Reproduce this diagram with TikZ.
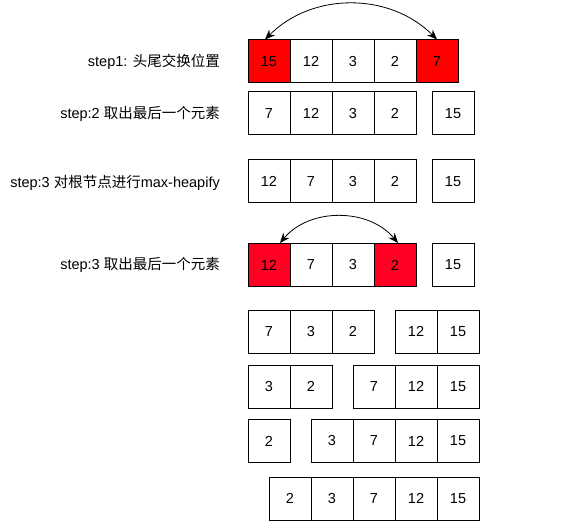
\documentclass[tikz,border=0pt]{standalone}
\usepackage{fontspec}
\setmainfont{Liberation Sans}
\newfontfamily\cjk{Noto Sans CJK SC}
\usetikzlibrary{arrows.meta}
\definecolor{swapred}{RGB}{255,0,0}
\definecolor{swappink}{RGB}{255,0,34}
\tikzset{
  cell/.style={draw, line width=1pt, minimum width=42pt, minimum height=43pt, inner sep=0pt, font=\fontsize{14.5}{16}\selectfont},
  nofill/.style={},
  redA/.style={fill=swapred},
  redB/.style={fill=swappink},
  steplabel/.style={anchor=east, inner sep=0pt, font=\fontsize{14.5}{16}\selectfont},
  swaparrow/.style={{Stealth[length=10pt,width=8pt]}-{Stealth[length=10pt,width=8pt]}, line width=0.8pt}
}
\begin{document}
\begin{tikzpicture}[x=1pt,y=1pt]
    \useasboundingbox (0,0) rectangle (576,-532);
    \node[steplabel] (l1) at (220,-62) {step1: {\cjk 头尾交换位置}};
    \node[steplabel] (l2) at (220,-114) {step:2 {\cjk 取出最后一个元素}};
    \node[steplabel] (l3) at (220,-183) {step:3 {\cjk 对根节点进行}max-heapify};
    \node[steplabel] (l4) at (220,-265) {step:3 {\cjk 取出最后一个元素}};
    \foreach \v/\s [count=\i] in {15/redA,12/nofill,3/nofill,2/nofill,7/redA} \node[cell,\s] (r1c\i) at ({227+42*\i},-61.5) {\v};
    \foreach \v [count=\i] in {7,12,3,2} \node[cell] (r2c\i) at ({227+42*\i},-113.5) {\v};
    \node[cell] (r2s) at (453,-113.5) {15};
    \foreach \v [count=\i] in {12,7,3,2} \node[cell] (r3c\i) at ({227+42*\i},-181.5) {\v};
    \node[cell] (r3s) at (453,-181.5) {15};
    \foreach \v/\s [count=\i] in {12/redB,7/nofill,3/nofill,2/redB} \node[cell,\s] (r4c\i) at ({227+42*\i},-265) {\v};
    \node[cell] (r4s) at (453,-265) {15};
    \foreach \v [count=\i] in {7,3,2} \node[cell] (r5c\i) at ({227+42*\i},-331.5) {\v};
    \foreach \v [count=\i] in {12,15} \node[cell] (r5s\i) at ({374+42*\i},-331.5) {\v};
    \foreach \v [count=\i] in {3,2} \node[cell] (r6c\i) at ({227+42*\i},-386.5) {\v};
    \foreach \v [count=\i] in {7,12,15} \node[cell] (r6s\i) at ({332+42*\i},-386.5) {\v};
    \node[cell] (r7c1) at (269,-441) {2};
    \foreach \v [count=\i] in {3,7,12,15} \node[cell] (r7s\i) at ({290+42*\i},-441) {\v};
    \foreach \v [count=\i] in {2,3,7,12,15} \node[cell] (r8s\i) at ({248+42*\i},-498.5) {\v};
    \draw[swaparrow] ([xshift=-4pt]r1c1.north) to[bend left=45] (r1c5.north);
    \draw[swaparrow] ([xshift=11pt]r4c1.north) to[bend left=50] ([xshift=3pt]r4c4.north);
\end{tikzpicture}
\end{document}
